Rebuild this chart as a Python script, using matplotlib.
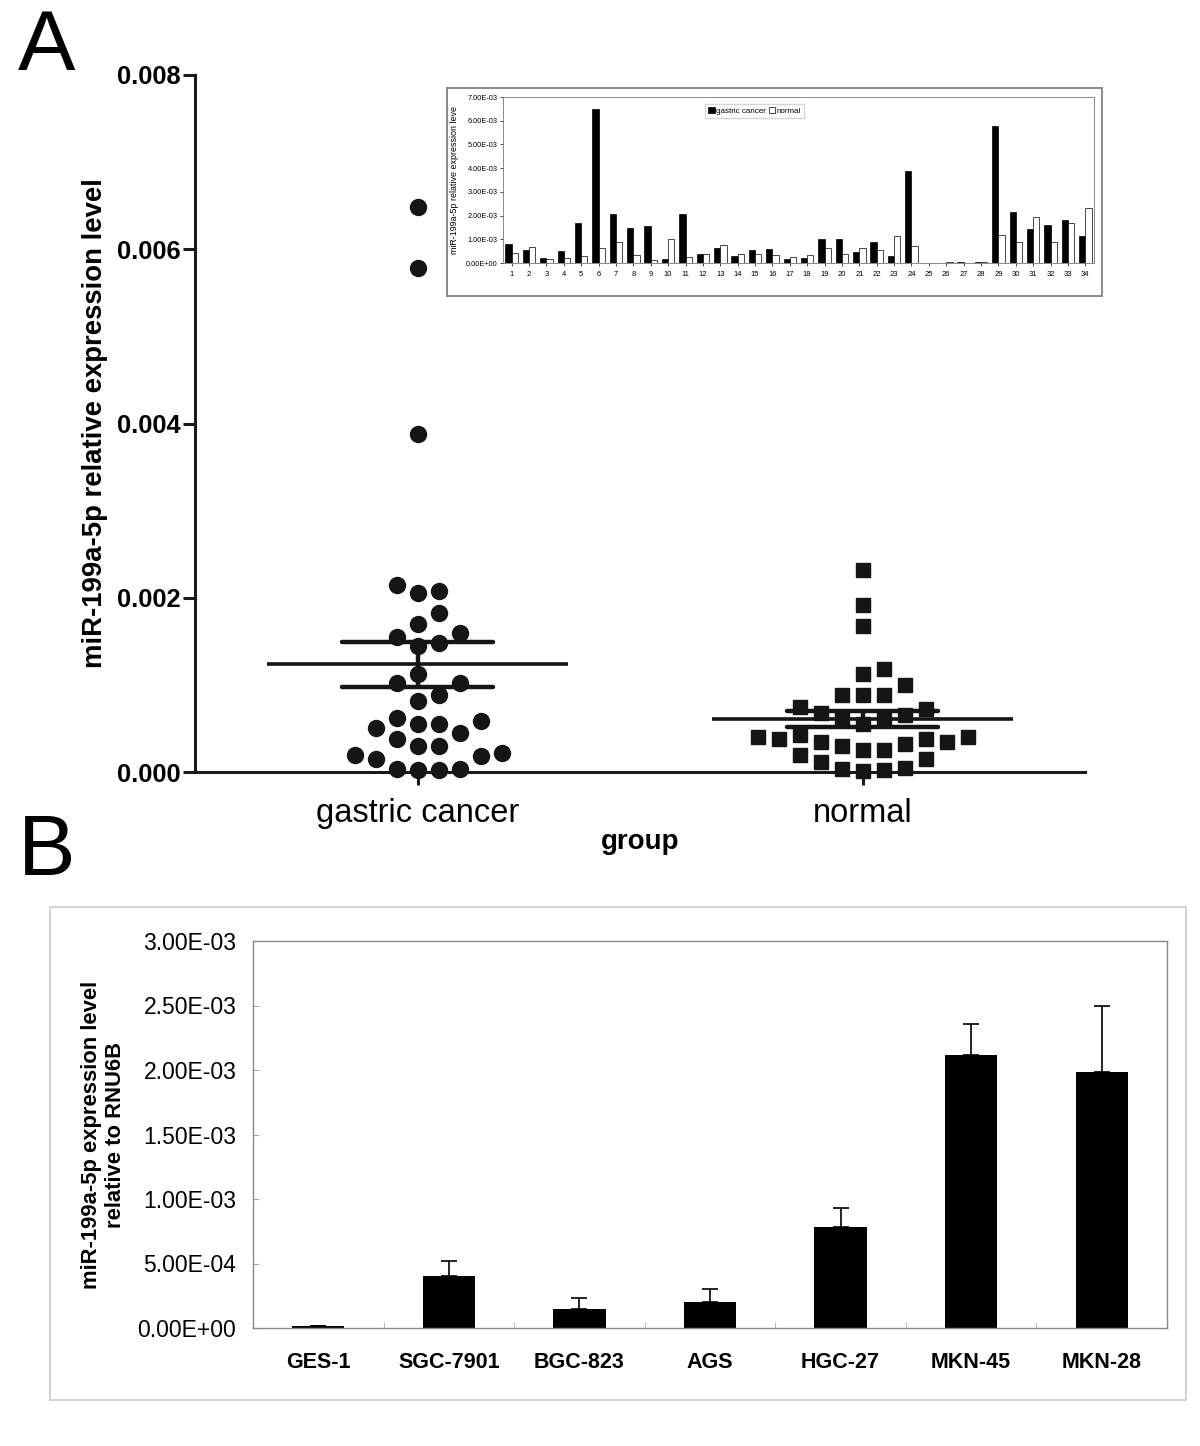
import numpy as np
import matplotlib
matplotlib.use("Agg")
import matplotlib.pyplot as plt
from matplotlib.patches import Rectangle

plt.rcParams['font.family'] = ['Liberation Sans', 'DejaVu Sans']

# ---- data: panel A (34 paired samples, relative expression) ----
sample_ids = list(range(1, 35))
gastric = np.array([0.82, 0.55, 0.22, 0.50, 1.70, 6.48, 2.08, 1.48, 1.55, 0.18,
                    2.05, 0.38, 0.62, 0.30, 0.55, 0.58, 0.15, 0.20, 1.02, 1.02,
                    0.45, 0.88, 0.30, 3.88, 0.02, 0.02, 0.03, 0.03, 5.78, 2.15,
                    1.45, 1.60, 1.82, 1.12]) * 1e-3
normal = np.array([0.42, 0.68, 0.15, 0.20, 0.30, 0.62, 0.88, 0.35, 0.12, 1.00,
                   0.25, 0.40, 0.75, 0.38, 0.38, 0.35, 0.25, 0.32, 0.65, 0.40,
                   0.62, 0.55, 1.12, 0.72, 0.02, 0.05, 0.01, 0.03, 1.18, 0.88,
                   1.92, 0.88, 1.68, 2.32]) * 1e-3
group_labels = ["gastric cancer", "normal"]

# ---- data: panel B (cell lines) ----
cell_lines = ["GES-1", "SGC-7901", "BGC-823", "AGS", "HGC-27", "MKN-45", "MKN-28"]
cell_mean = np.array([0.015, 0.400, 0.151, 0.200, 0.785, 2.116, 1.983]) * 1e-3
cell_err = np.array([0.0, 0.117, 0.078, 0.104, 0.143, 0.239, 0.515]) * 1e-3

W, H = 1200, 1446
fig = plt.figure(figsize=(W / 100, H / 100), dpi=100)


def box(x0, y0, x1, y1):
    # pixel box (top-left origin) -> figure fraction rect
    return [x0 / W, 1 - y1 / H, (x1 - x0) / W, (y1 - y0) / H]


def swarm(vals, xpx_unit, ypx_unit, diam, step):
    # simple grid beeswarm, lowest values first
    placed = []
    offs = np.zeros(len(vals))
    cands = [0] + [s * j for j in range(1, 30) for s in (1, -1)]
    for i in np.argsort(vals, kind="stable"):
        y = vals[i] * ypx_unit
        for c in cands:
            x = c * step
            if all((x - px) ** 2 + (y - py) ** 2 >= diam ** 2 for px, py in placed):
                break
        placed.append((x, y))
        offs[i] = x / xpx_unit
    return offs


# ================= panel A =================
axA = fig.add_axes(box(195, 75, 1085, 772))
axA.set_xlim(0.5, 2.5)
axA.set_ylim(0, 0.008)
for s in ("top", "right"):
    axA.spines[s].set_visible(False)
for s in ("left", "bottom"):
    axA.spines[s].set_linewidth(2.2)
    axA.spines[s].set_color("#1a1a1a")

pos = axA.get_position()
xpx_unit = pos.width * W / 2.0
ypx_unit = pos.height * H / 0.008

for k, (vals, mk, ms) in enumerate([(gastric, "o", 11.5), (normal, "s", 10.5)]):
    xc = k + 1
    offs = swarm(vals, xpx_unit, ypx_unit, diam=17.5, step=21)
    axA.plot(xc + offs, vals, linestyle="none", marker=mk, ms=ms,
             color="#151515", clip_on=False, zorder=3)
    m = vals.mean()
    sem = vals.std(ddof=1) / np.sqrt(len(vals))
    axA.hlines(m, xc - 0.338, xc + 0.338, color="#151515", lw=2.6, zorder=4)
    axA.hlines([m - sem, m + sem], xc - 0.17, xc + 0.17, color="#151515",
               lw=3.2, zorder=4, capstyle="round")
    axA.vlines(xc, m - sem, m + sem, color="#151515", lw=3.2, zorder=4)

axA.set_yticks(np.arange(0, 0.0081, 0.002))
axA.set_yticklabels([f"{v:.3f}" for v in np.arange(0, 0.0081, 0.002)],
                    fontweight="bold", fontsize=18.4)
axA.set_xticks([1, 2])
axA.set_xticklabels(group_labels, fontsize=23.5)
axA.tick_params(axis="y", length=9, width=2.2, pad=1, color="#1a1a1a")
axA.tick_params(axis="x", length=9, width=2.2, pad=10, color="#1a1a1a")
axA.set_xlabel("group", fontweight="bold", fontsize=20, labelpad=0)
axA.set_ylabel("miR-199a-5p relative expression level", fontweight="bold",
               fontsize=19.8, labelpad=7)

fig.text(47 / W, 1 - 48 / H, "A", fontsize=62, ha="center", va="center")
fig.text(47 / W, 1 - 853 / H, "B", fontsize=62, ha="center", va="center")

# ---- inset (per-sample bars) ----
fig.patches.append(Rectangle((447 / W, 1 - 296 / H), (1102 - 447) / W, (296 - 88) / H,
                             transform=fig.transFigure, facecolor="white",
                             edgecolor="#8a8a8a", lw=1.4, zorder=2))
axI = fig.add_axes(box(503, 97, 1094, 263), zorder=3)
xi = np.arange(len(sample_ids)) + 1
bw = 0.36
axI.bar(xi - bw / 2, gastric, bw, color="black", edgecolor="black", lw=0.5,
        label="gastric cancer")
axI.bar(xi + bw / 2, normal, bw, color="white", edgecolor="black", lw=0.5,
        label="normal")
axI.set_xlim(0.5, len(sample_ids) + 0.5)
axI.set_ylim(0, 0.007)
axI.set_yticks(np.arange(0, 0.00701, 0.001))
axI.set_yticklabels([f"{v:.2E}" for v in np.arange(0, 0.00701, 0.001)], fontsize=5.3)
axI.set_xticks(xi)
axI.set_xticklabels([str(i) for i in sample_ids], fontsize=5.5)
axI.tick_params(length=2, width=0.5, pad=2)
axI.tick_params(axis="x", pad=4)
axI.set_ylabel("miR-199a-5p relative expression leve", fontsize=6.4, labelpad=5)
for s in axI.spines.values():
    s.set_linewidth(0.6)
    s.set_color("#777777")
axI.legend(loc="upper center", bbox_to_anchor=(0.426, 0.96), ncol=2, fontsize=5.8,
           frameon=True, fancybox=False, edgecolor="#cccccc", handlelength=0.8,
           handleheight=0.8, handletextpad=0.2, columnspacing=0.3,
           borderpad=0.4, borderaxespad=0.0)

# ================= panel B =================
fig.patches.append(Rectangle((50 / W, 1 - 1400 / H), (1186 - 50) / W, (1400 - 907) / H,
                             transform=fig.transFigure, facecolor="white",
                             edgecolor="#cccccc", lw=1.2, zorder=2))
axB = fig.add_axes(box(253, 941, 1167, 1328), zorder=3)
xb = np.arange(len(cell_lines))
axB.bar(xb, cell_mean, 0.4, color="black", zorder=2)
axB.errorbar(xb, cell_mean, yerr=[np.zeros_like(cell_err), cell_err], fmt="none",
             ecolor="black", elinewidth=1.2, capsize=6, capthick=1.2, zorder=3)
axB.set_xlim(-0.5, len(cell_lines) - 0.5)
axB.set_ylim(0, 0.003)
yt = np.arange(0, 0.003001, 0.0005)
axB.set_yticks(yt)
axB.set_yticklabels([f"{v:.2E}" for v in yt], fontsize=16.5)
axB.tick_params(axis="y", direction="in", length=4, width=0.8, color="#aaaaaa", pad=12)
axB.set_xticks(np.arange(len(cell_lines) + 1) - 0.5)
axB.set_xticklabels([])
axB.set_xticks(xb, minor=True)
axB.set_xticklabels(cell_lines, minor=True, fontweight="bold", fontsize=15.5)
axB.tick_params(axis="x", which="major", direction="in", length=4, width=0.8,
                color="#bbbbbb")
axB.tick_params(axis="x", which="minor", length=0, pad=17)
for s in axB.spines.values():
    s.set_linewidth(1.0)
    s.set_color("#8a8a8a")
axB.set_ylabel("miR-199a-5p expression level\nrelative to RNU6B", fontweight="bold",
               fontsize=15.8, labelpad=8, linespacing=1.2)

fig.savefig("out.png", dpi=100)
